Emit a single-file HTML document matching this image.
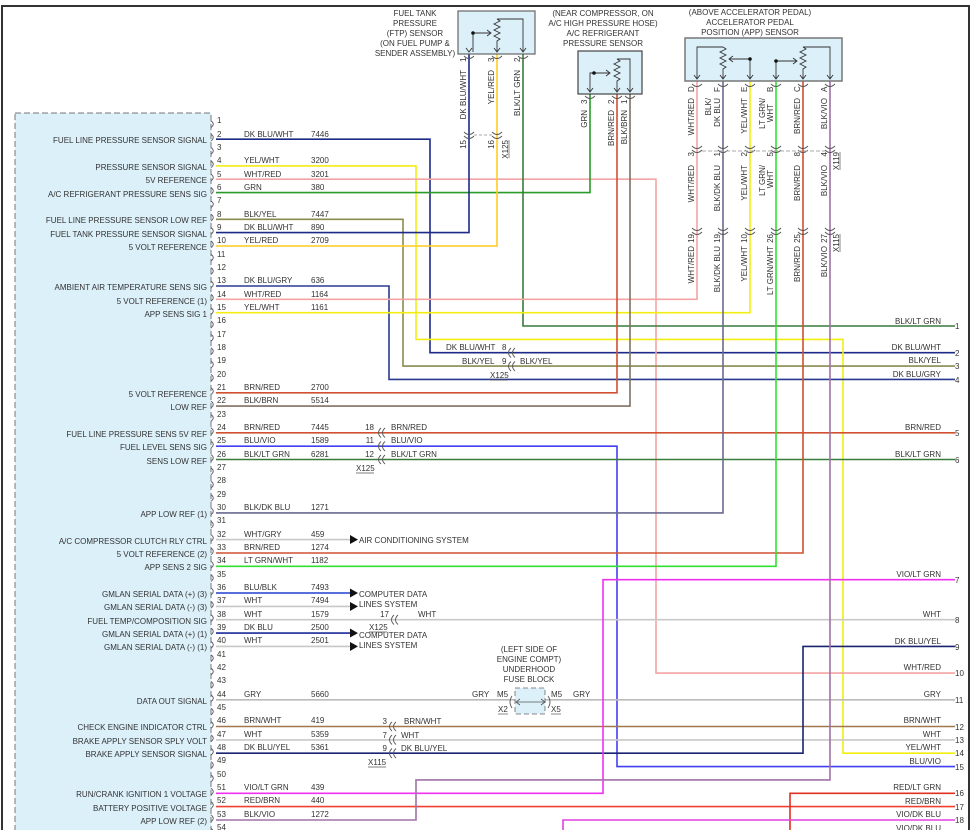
<!DOCTYPE html>
<html><head><meta charset="utf-8"><style>
html,body{margin:0;padding:0;background:#fff;width:972px;height:830px;overflow:hidden}
svg{display:block}
text{font-family:"Liberation Sans",sans-serif;font-size:8px;fill:#333}
.r{text-anchor:end}
.m{text-anchor:middle}
.w{fill:none;stroke-width:1.6}
.c{fill:none;stroke:#555;stroke-width:0.9}
</style></head><body>
<svg width="972" height="830" viewBox="0 0 972 830" xmlns="http://www.w3.org/2000/svg">
<defs>
<pattern id="pc" patternUnits="userSpaceOnUse" x="208" y="119" width="10" height="13.35">
<path d="M3,1.8 Q7.5,5 3,8.6" fill="none" stroke="#555" stroke-width="0.9"/>
</pattern>
</defs>
<rect x="2" y="6" width="967" height="830" fill="none" stroke="#333" stroke-width="2"/>
<rect x="15" y="113" width="196" height="730" fill="#dcf0fa" stroke="#777" stroke-width="1" stroke-dasharray="6,3"/>
<rect x="208" y="119" width="10" height="715" fill="url(#pc)"/>

<!-- left names -->
<g class="r">
<text x="207" y="143">FUEL LINE PRESSURE SENSOR SIGNAL</text>
<text x="207" y="170">PRESSURE SENSOR SIGNAL</text>
<text x="207" y="183">5V REFERENCE</text>
<text x="207" y="197">A/C REFRIGERANT PRESSURE SENS SIG</text>
<text x="207" y="223">FUEL LINE PRESSURE SENSOR LOW REF</text>
<text x="207" y="237">FUEL TANK PRESSURE SENSOR SIGNAL</text>
<text x="207" y="250">5 VOLT REFERENCE</text>
<text x="207" y="290">AMBIENT AIR TEMPERATURE SENS SIG</text>
<text x="207" y="304">5 VOLT REFERENCE (1)</text>
<text x="207" y="317">APP SENS SIG 1</text>
<text x="207" y="397">5 VOLT REFERENCE</text>
<text x="207" y="410">LOW REF</text>
<text x="207" y="437">FUEL LINE PRESSURE SENS 5V REF</text>
<text x="207" y="450">FUEL LEVEL SENS SIG</text>
<text x="207" y="464">SENS LOW REF</text>
<text x="207" y="517">APP LOW REF (1)</text>
<text x="207" y="544">A/C COMPRESSOR CLUTCH RLY CTRL</text>
<text x="207" y="557">5 VOLT REFERENCE (2)</text>
<text x="207" y="570">APP SENS 2 SIG</text>
<text x="207" y="597">GMLAN SERIAL DATA (+) (3)</text>
<text x="207" y="610">GMLAN SERIAL DATA (-) (3)</text>
<text x="207" y="624">FUEL TEMP/COMPOSITION SIG</text>
<text x="207" y="637">GMLAN SERIAL DATA (+) (1)</text>
<text x="207" y="650">GMLAN SERIAL DATA (-) (1)</text>
<text x="207" y="704">DATA OUT SIGNAL</text>
<text x="207" y="730">CHECK ENGINE INDICATOR CTRL</text>
<text x="207" y="744">BRAKE APPLY SENSOR SPLY VOLT</text>
<text x="207" y="757">BRAKE APPLY SENSOR SIGNAL</text>
<text x="207" y="797">RUN/CRANK IGNITION 1 VOLTAGE</text>
<text x="207" y="811">BATTERY POSITIVE VOLTAGE</text>
<text x="207" y="824">APP LOW REF (2)</text>
</g>

<!-- pin numbers -->
<g>
<text x="217" y="123">1</text><text x="217" y="137">2</text><text x="217" y="150">3</text><text x="217" y="163">4</text><text x="217" y="177">5</text><text x="217" y="190">6</text><text x="217" y="203">7</text><text x="217" y="217">8</text><text x="217" y="230">9</text><text x="217" y="243">10</text><text x="217" y="257">11</text><text x="217" y="270">12</text><text x="217" y="283">13</text><text x="217" y="297">14</text><text x="217" y="310">15</text><text x="217" y="323">16</text><text x="217" y="337">17</text><text x="217" y="350">18</text><text x="217" y="363">19</text><text x="217" y="377">20</text><text x="217" y="390">21</text><text x="217" y="403">22</text><text x="217" y="417">23</text><text x="217" y="430">24</text><text x="217" y="443">25</text><text x="217" y="457">26</text><text x="217" y="470">27</text><text x="217" y="483">28</text><text x="217" y="497">29</text><text x="217" y="510">30</text><text x="217" y="523">31</text><text x="217" y="537">32</text><text x="217" y="550">33</text><text x="217" y="563">34</text><text x="217" y="577">35</text><text x="217" y="590">36</text><text x="217" y="603">37</text><text x="217" y="617">38</text><text x="217" y="630">39</text><text x="217" y="643">40</text><text x="217" y="657">41</text><text x="217" y="670">42</text><text x="217" y="683">43</text><text x="217" y="697">44</text><text x="217" y="710">45</text><text x="217" y="723">46</text><text x="217" y="737">47</text><text x="217" y="750">48</text><text x="217" y="763">49</text><text x="217" y="777">50</text><text x="217" y="790">51</text><text x="217" y="803">52</text><text x="217" y="817">53</text><text x="217" y="830">54</text>
</g>

<!-- wire labels left -->
<g>
<text x="244" y="137">DK BLU/WHT</text><text x="311" y="137">7446</text>
<text x="244" y="163">YEL/WHT</text><text x="311" y="163">3200</text>
<text x="244" y="177">WHT/RED</text><text x="311" y="177">3201</text>
<text x="244" y="190">GRN</text><text x="311" y="190">380</text>
<text x="244" y="217">BLK/YEL</text><text x="311" y="217">7447</text>
<text x="244" y="230">DK BLU/WHT</text><text x="311" y="230">890</text>
<text x="244" y="243">YEL/RED</text><text x="311" y="243">2709</text>
<text x="244" y="283">DK BLU/GRY</text><text x="311" y="283">636</text>
<text x="244" y="297">WHT/RED</text><text x="311" y="297">1164</text>
<text x="244" y="310">YEL/WHT</text><text x="311" y="310">1161</text>
<text x="244" y="390">BRN/RED</text><text x="311" y="390">2700</text>
<text x="244" y="403">BLK/BRN</text><text x="311" y="403">5514</text>
<text x="244" y="430">BRN/RED</text><text x="311" y="430">7445</text>
<text x="244" y="443">BLU/VIO</text><text x="311" y="443">1589</text>
<text x="244" y="457">BLK/LT GRN</text><text x="311" y="457">6281</text>
<text x="244" y="510">BLK/DK BLU</text><text x="311" y="510">1271</text>
<text x="244" y="537">WHT/GRY</text><text x="311" y="537">459</text>
<text x="244" y="550">BRN/RED</text><text x="311" y="550">1274</text>
<text x="244" y="563">LT GRN/WHT</text><text x="311" y="563">1182</text>
<text x="244" y="590">BLU/BLK</text><text x="311" y="590">7493</text>
<text x="244" y="603">WHT</text><text x="311" y="603">7494</text>
<text x="244" y="617">WHT</text><text x="311" y="617">1579</text>
<text x="244" y="630">DK BLU</text><text x="311" y="630">2500</text>
<text x="244" y="643">WHT</text><text x="311" y="643">2501</text>
<text x="244" y="697">GRY</text><text x="311" y="697">5660</text>
<text x="244" y="723">BRN/WHT</text><text x="311" y="723">419</text>
<text x="244" y="737">WHT</text><text x="311" y="737">5359</text>
<text x="244" y="750">DK BLU/YEL</text><text x="311" y="750">5361</text>
<text x="244" y="790">VIO/LT GRN</text><text x="311" y="790">439</text>
<text x="244" y="803">RED/BRN</text><text x="311" y="803">440</text>
<text x="244" y="817">BLK/VIO</text><text x="311" y="817">1272</text>
</g>

<!-- wires -->
<path class="w" stroke="#1e2a88" d="M216,139.2 H430 V352.7 H955"/>
<path class="w" stroke="#f2ee10" d="M216,165.9 H416 V339.4 H843 V753.2 H955"/>
<path class="w" stroke="#f4a4a4" d="M216,179.2 H656 V673.1 H955"/>
<path class="w" stroke="#2a9a2a" d="M216,192.6 H590 V92"/>
<path class="w" stroke="#8a8a50" d="M216,219.3 H403 V366.1 H955"/>
<path class="w" stroke="#1e2a88" d="M216,232.6 H469 V54"/>
<path class="w" stroke="#ffcc20" d="M216,246 H497 V54"/>
<path class="w" stroke="#3a7a3a" d="M523,54 V326 H955"/>
<path class="w" stroke="#2a3a90" d="M216,286 H389 V379.4 H955"/>
<path class="w" stroke="#f4a4a4" d="M216,299.3 H697 V80"/>
<path class="w" stroke="#f2ee10" d="M216,312.7 H750 V80"/>
<path class="w" stroke="#d05030" d="M216,392.8 H617 V92"/>
<path class="w" stroke="#807060" d="M216,406.1 H630 V92"/>
<path class="w" stroke="#d05030" d="M216,432.8 H955"/>
<path class="w" stroke="#4040f0" d="M216,446.2 H617 V766.6 H955"/>
<path class="w" stroke="#3a7a3a" d="M216,459.5 H955"/>
<path class="w" stroke="#6a6a90" d="M216,512.9 H723 V80"/>
<path class="w" stroke="#c8c8c8" d="M216,539.6 H350"/>
<path class="w" stroke="#d05030" d="M216,553 H803 V80"/>
<path class="w" stroke="#30e030" d="M216,566.3 H776 V80"/>
<path class="w" stroke="#2040d0" d="M216,593 H350"/>
<path class="w" stroke="#c8c8c8" d="M216,606.4 H350"/>
<path class="w" stroke="#c8c8c8" d="M216,619.7 H955"/>
<path class="w" stroke="#1a2a9a" d="M216,633.1 H350"/>
<path class="w" stroke="#c8c8c8" d="M216,646.4 H350"/>
<path class="w" stroke="#bbbbbb" d="M216,699.8 H955"/>
<path class="w" stroke="#a07850" d="M216,726.5 H955"/>
<path class="w" stroke="#c8c8c8" d="M216,739.9 H955"/>
<path class="w" stroke="#1a2470" d="M216,753.2 H803 V646.4 H955"/>
<path class="w" stroke="#f030f0" d="M216,793.3 H603 V579.7 H955"/>
<path class="w" stroke="#f04030" d="M216,806.6 H955"/>
<path class="w" stroke="#a070a8" d="M216,820 H416 V779.9 H830 V80"/>
<path class="w" stroke="#e03020" d="M790,840 V793.3 H955"/>
<path class="w" stroke="#e040e0" d="M563,840 V820 H955"/>

<!-- arrows -->
<g fill="#111">
<path d="M350,535 L358,539.6 L350,544Z"/>
<path d="M350,588.5 L358,593 L350,597.5Z"/>
<path d="M350,602 L358,606.4 L350,611Z"/>
<path d="M350,628.5 L358,633.1 L350,637.5Z"/>
<path d="M350,642 L358,646.4 L350,651Z"/>
</g>
<text x="359" y="543">AIR CONDITIONING SYSTEM</text>
<text x="359" y="597">COMPUTER DATA</text>
<text x="359" y="607">LINES SYSTEM</text>
<text x="359" y="638">COMPUTER DATA</text>
<text x="359" y="648">LINES SYSTEM</text>

<!-- inline horizontal connectors (( -->
<g class="c">
<path d="M511,348 Q506,352.7 511,357.5 M515,348 Q510,352.7 515,357.5"/>
<path d="M511,361.5 Q506,366.1 511,371 M515,361.5 Q510,366.1 515,371"/>
<path d="M381,428 Q376,432.8 381,437.5 M385,428 Q380,432.8 385,437.5"/>
<path d="M381,441.5 Q376,446.2 381,451 M385,441.5 Q380,446.2 385,451"/>
<path d="M381,455 Q376,459.5 381,464 M385,455 Q380,459.5 385,464"/>
<path d="M394,615 Q389,619.7 394,624.5 M398,615 Q393,619.7 398,624.5"/>
<path d="M392,722 Q387,726.5 392,731 M396,722 Q391,726.5 396,731"/>
<path d="M392,735 Q387,739.9 392,744.5 M396,735 Q391,739.9 396,744.5"/>
<path d="M392,748.5 Q387,753.2 392,758 M396,748.5 Q391,753.2 396,758"/>
</g>
<text x="446" y="350">DK BLU/WHT</text><text x="502" y="350">8</text>
<text x="462" y="364">BLK/YEL</text><text x="502" y="364">9</text><text x="520" y="364">BLK/YEL</text>
<text x="490" y="378">X125</text><line x1="490" y1="380" x2="508" y2="380" stroke="#555" stroke-width="0.7"/>
<text x="374" y="430" class="r">18</text><text x="391" y="430">BRN/RED</text>
<text x="374" y="443" class="r">11</text><text x="391" y="443">BLU/VIO</text>
<text x="374" y="457" class="r">12</text><text x="391" y="457">BLK/LT GRN</text>
<text x="356" y="471">X125</text><line x1="356" y1="473" x2="374" y2="473" stroke="#555" stroke-width="0.7"/>
<text x="389" y="617" class="r">17</text><text x="418" y="617">WHT</text>
<text x="369" y="630">X125</text><line x1="369" y1="632" x2="387" y2="632" stroke="#555" stroke-width="0.7"/>
<text x="387" y="724" class="r">3</text><text x="404" y="724">BRN/WHT</text>
<text x="387" y="738" class="r">7</text><text x="401" y="738">WHT</text>
<text x="387" y="751" class="r">9</text><text x="401" y="751">DK BLU/YEL</text>
<text x="368" y="765">X115</text><line x1="368" y1="767" x2="386" y2="767" stroke="#555" stroke-width="0.7"/>

<!-- right labels -->
<g class="r">
<text x="941" y="324">BLK/LT GRN</text>
<text x="941" y="350">DK BLU/WHT</text>
<text x="941" y="363">BLK/YEL</text>
<text x="941" y="377">DK BLU/GRY</text>
<text x="941" y="430">BRN/RED</text>
<text x="941" y="457">BLK/LT GRN</text>
<text x="941" y="577">VIO/LT GRN</text>
<text x="941" y="617">WHT</text>
<text x="941" y="644">DK BLU/YEL</text>
<text x="941" y="670">WHT/RED</text>
<text x="941" y="697">GRY</text>
<text x="941" y="723">BRN/WHT</text>
<text x="941" y="737">WHT</text>
<text x="941" y="750">YEL/WHT</text>
<text x="941" y="764">BLU/VIO</text>
<text x="941" y="790">RED/LT GRN</text>
<text x="941" y="804">RED/BRN</text>
<text x="941" y="817">VIO/DK BLU</text>
<text x="941" y="831">VIO/DK BLU</text>
</g>
<g>
<text x="955" y="329">1</text><text x="955" y="356">2</text><text x="955" y="369">3</text><text x="955" y="383">4</text><text x="955" y="436">5</text><text x="955" y="463">6</text><text x="955" y="583">7</text><text x="955" y="623">8</text><text x="955" y="650">9</text><text x="955" y="676">10</text><text x="955" y="703">11</text><text x="955" y="730">12</text><text x="955" y="743">13</text><text x="955" y="756">14</text><text x="955" y="770">15</text><text x="955" y="796">16</text><text x="955" y="810">17</text><text x="955" y="823">18</text>
</g>

<!-- fuse block -->
<text class="m" x="529" y="652">(LEFT SIDE OF</text>
<text class="m" x="529" y="662">ENGINE COMPT)</text>
<text class="m" x="529" y="672">UNDERHOOD</text>
<text class="m" x="529" y="682">FUSE BLOCK</text>
<rect x="515" y="688" width="30" height="26" fill="#dcf0fa" stroke="#666" stroke-width="0.8" stroke-dasharray="5,3"/>
<line x1="516" y1="702" x2="545" y2="702" stroke="#555" stroke-width="0.8"/>
<path d="M520,699 L516,702 L520,705 M541,699 L545,702 L541,705" fill="none" stroke="#555" stroke-width="0.8"/>
<path d="M512,696 Q508,702 512,708 M548,696 Q552,702 548,708" class="c"/>
<text x="472" y="697">GRY</text><text x="497" y="697">M5</text>
<text x="551" y="697">M5</text><text x="573" y="697">GRY</text>
<text x="498" y="712">X2</text><line x1="498" y1="714" x2="508" y2="714" stroke="#555" stroke-width="0.7"/>
<text x="551" y="712">X5</text><line x1="551" y1="714" x2="561" y2="714" stroke="#555" stroke-width="0.7"/>

<!-- FTP sensor -->
<text class="m" x="415" y="16">FUEL TANK</text>
<text class="m" x="415" y="26">PRESSURE</text>
<text class="m" x="415" y="36">(FTP) SENSOR</text>
<text class="m" x="415" y="46">(ON FUEL PUMP &amp;</text>
<text class="m" x="415" y="56">SENDER ASSEMBLY)</text>
<rect x="458" y="11" width="77" height="43" fill="#dcf0fa" stroke="#666" stroke-width="1.2"/>
<g fill="none" stroke="#333" stroke-width="0.9">
<path d="M497,19 l3,2 l-6,3 l6,3 l-6,3 l6,3 l-6,3 l6,3 l-3,2 V52"/>
<path d="M497,19 H523 V52"/>
<path d="M473,33 H490 M473,33 V52"/>
<path d="M487,30 L491,33 L487,36 M466,48 L469,52 L472,48 M494,48 L497,52 L500,48 M520,48 L523,52 L526,48"/>
</g>
<circle cx="473" cy="33" r="1.8" fill="#111"/>
<g class="c">
<path d="M464,56 Q469,61 474,56 M492,56 Q497,61 502,56 M518,56 Q523,61 528,56"/>
<path d="M464,132 Q469,137 474,132 M464,136 Q469,141 474,136 M492,132 Q497,137 502,132 M492,136 Q497,141 502,136"/>
</g>
<line x1="474" y1="135" x2="492" y2="135" stroke="#aaa" stroke-dasharray="3,2"/>
<text transform="rotate(-90 466 62)" x="466" y="62">1</text>
<text transform="rotate(-90 494 62)" x="494" y="62">3</text>
<text transform="rotate(-90 520 62)" x="520" y="62">2</text>
<text class="r" transform="rotate(-90 466 70)" x="466" y="70">DK BLU/WHT</text>
<text class="r" transform="rotate(-90 494 70)" x="494" y="70">YEL/RED</text>
<text class="r" transform="rotate(-90 520 70)" x="520" y="70">BLK/LT GRN</text>
<text class="r" transform="rotate(-90 466 140)" x="466" y="140">15</text>
<text class="r" transform="rotate(-90 494 140)" x="494" y="140">16</text>
<text class="r" transform="rotate(-90 508 140)" x="508" y="140">X125</text>
<line x1="509" y1="140" x2="509" y2="158" stroke="#555" stroke-width="0.7"/>

<!-- A/C sensor -->
<text class="m" x="603" y="16">(NEAR COMPRESSOR, ON</text>
<text class="m" x="603" y="26">A/C HIGH PRESSURE HOSE)</text>
<text class="m" x="603" y="36">A/C REFRIGERANT</text>
<text class="m" x="603" y="46">PRESSURE SENSOR</text>
<rect x="578" y="51" width="64" height="43" fill="#dcf0fa" stroke="#444" stroke-width="1.2"/>
<g fill="none" stroke="#333" stroke-width="0.9">
<path d="M617,59 l3,2 l-6,3 l6,3 l-6,3 l6,3 l-6,3 l6,3 l-3,2 V92"/>
<path d="M617,59 H630 V92"/>
<path d="M594,73 H610 M594,73 H590 V92"/>
<path d="M606,70 L610,73 L606,76 M587,88 L590,92 L593,88 M614,88 L617,92 L620,88 M627,88 L630,92 L633,88"/>
</g>
<circle cx="594" cy="73" r="1.8" fill="#111"/>
<path class="c" d="M585,96 Q590,101 595,96 M612,96 Q617,101 622,96 M625,96 Q630,101 635,96"/>
<text transform="rotate(-90 587 104)" x="587" y="104">3</text>
<text transform="rotate(-90 614 104)" x="614" y="104">2</text>
<text transform="rotate(-90 627 104)" x="627" y="104">1</text>
<text class="r" transform="rotate(-90 587 110)" x="587" y="110">GRN</text>
<text class="r" transform="rotate(-90 614 110)" x="614" y="110">BRN/RED</text>
<text class="r" transform="rotate(-90 627 110)" x="627" y="110">BLK/BRN</text>

<!-- APP sensor -->
<text class="m" x="750" y="15">(ABOVE ACCELERATOR PEDAL)</text>
<text class="m" x="750" y="25">ACCELERATOR PEDAL</text>
<text class="m" x="750" y="35">POSITION (APP) SENSOR</text>
<rect x="685" y="38" width="157" height="43" fill="#dcf0fa" stroke="#777" stroke-width="1.5"/>
<g fill="none" stroke="#333" stroke-width="0.9">
<path d="M723,47 l3,2 l-6,3 l6,3 l-6,3 l6,3 l-6,3 l6,3 l-3,2 V79"/>
<path d="M723,47 H697 V79"/>
<path d="M750,59 H729 M750,59 V79"/>
<path d="M733,56 L729,59 L733,62"/>
<path d="M803,47 l3,2 l-6,3 l6,3 l-6,3 l6,3 l-6,3 l6,3 l-3,2 V79"/>
<path d="M803,47 H830 V79"/>
<path d="M776,61 H797 M776,61 V79"/>
<path d="M793,58 L797,61 L793,64"/>
<path d="M694,75 L697,79 L700,75 M720,75 L723,79 L726,75 M747,75 L750,79 L753,75 M773,75 L776,79 L779,75 M800,75 L803,79 L806,75 M827,75 L830,79 L833,75"/>
</g>
<circle cx="750" cy="59" r="1.8" fill="#111"/>
<circle cx="776" cy="61" r="1.8" fill="#111"/>
<g class="c">
<path d="M692,84 Q697,89 702,84 M718,84 Q723,89 728,84 M745,84 Q750,89 755,84 M771,84 Q776,89 781,84 M798,84 Q803,89 808,84 M825,84 Q830,89 835,84"/>
<path d="M692,146 Q697,151 702,146 M692,150 Q697,155 702,150 M718,146 Q723,151 728,146 M718,150 Q723,155 728,150 M745,146 Q750,151 755,146 M745,150 Q750,155 755,150 M771,146 Q776,151 781,146 M771,150 Q776,155 781,150 M798,146 Q803,151 808,146 M798,150 Q803,155 808,150 M825,146 Q830,151 835,146 M825,150 Q830,155 835,150"/>
<path d="M692,228 Q697,233 702,228 M692,232 Q697,237 702,232 M718,228 Q723,233 728,228 M718,232 Q723,237 728,232 M745,228 Q750,233 755,228 M745,232 Q750,237 755,232 M771,228 Q776,233 781,228 M771,232 Q776,237 781,232 M798,228 Q803,233 808,228 M798,232 Q803,237 808,232 M825,228 Q830,233 835,228 M825,232 Q830,237 835,232"/>
</g>
<line x1="702" y1="151" x2="825" y2="151" stroke="#aaa" stroke-dasharray="4,2"/>
<g>
<text transform="rotate(-90 694 92)" x="694" y="92">D</text>
<text transform="rotate(-90 720 92)" x="720" y="92">F</text>
<text transform="rotate(-90 747 92)" x="747" y="92">E</text>
<text transform="rotate(-90 773 92)" x="773" y="92">B</text>
<text transform="rotate(-90 800 92)" x="800" y="92">C</text>
<text transform="rotate(-90 827 92)" x="827" y="92">A</text>
</g>
<g class="r">
<text transform="rotate(-90 694 98)" x="694" y="98">WHT/RED</text>
<text transform="rotate(-90 711 98)" x="711" y="98">BLK/</text>
<text transform="rotate(-90 720 98)" x="720" y="98">DK BLU</text>
<text transform="rotate(-90 747 98)" x="747" y="98">YEL/WHT</text>
<text transform="rotate(-90 765 98)" x="765" y="98">LT GRN/</text>
<text transform="rotate(-90 773 104)" x="773" y="104">WHT</text>
<text transform="rotate(-90 800 98)" x="800" y="98">BRN/RED</text>
<text transform="rotate(-90 827 98)" x="827" y="98">BLK/VIO</text>
<text transform="rotate(-90 694 152)" x="694" y="152">3</text>
<text transform="rotate(-90 720 152)" x="720" y="152">1</text>
<text transform="rotate(-90 747 152)" x="747" y="152">2</text>
<text transform="rotate(-90 773 152)" x="773" y="152">5</text>
<text transform="rotate(-90 800 152)" x="800" y="152">8</text>
<text transform="rotate(-90 827 152)" x="827" y="152">4</text>
<text transform="rotate(-90 839 152)" x="839" y="152">X119</text>
<text transform="rotate(-90 694 165)" x="694" y="165">WHT/RED</text>
<text transform="rotate(-90 720 165)" x="720" y="165">BLK/DK BLU</text>
<text transform="rotate(-90 747 165)" x="747" y="165">YEL/WHT</text>
<text transform="rotate(-90 765 165)" x="765" y="165">LT GRN/</text>
<text transform="rotate(-90 773 170)" x="773" y="170">WHT</text>
<text transform="rotate(-90 800 165)" x="800" y="165">BRN/RED</text>
<text transform="rotate(-90 827 165)" x="827" y="165">BLK/VIO</text>
<text transform="rotate(-90 694 234)" x="694" y="234">19</text>
<text transform="rotate(-90 720 234)" x="720" y="234">19</text>
<text transform="rotate(-90 747 234)" x="747" y="234">10</text>
<text transform="rotate(-90 773 234)" x="773" y="234">26</text>
<text transform="rotate(-90 800 234)" x="800" y="234">25</text>
<text transform="rotate(-90 827 234)" x="827" y="234">27</text>
<text transform="rotate(-90 839 234)" x="839" y="234">X115</text>
<text transform="rotate(-90 694 246)" x="694" y="246">WHT/RED</text>
<text transform="rotate(-90 720 246)" x="720" y="246">BLK/DK BLU</text>
<text transform="rotate(-90 747 246)" x="747" y="246">YEL/WHT</text>
<text transform="rotate(-90 773 246)" x="773" y="246">LT GRN/WHT</text>
<text transform="rotate(-90 800 246)" x="800" y="246">BRN/RED</text>
<text transform="rotate(-90 827 246)" x="827" y="246">BLK/VIO</text>
</g>
<line x1="840" y1="152" x2="840" y2="170" stroke="#555" stroke-width="0.7"/>
<line x1="840" y1="234" x2="840" y2="252" stroke="#555" stroke-width="0.7"/>
</svg>
</body></html>
